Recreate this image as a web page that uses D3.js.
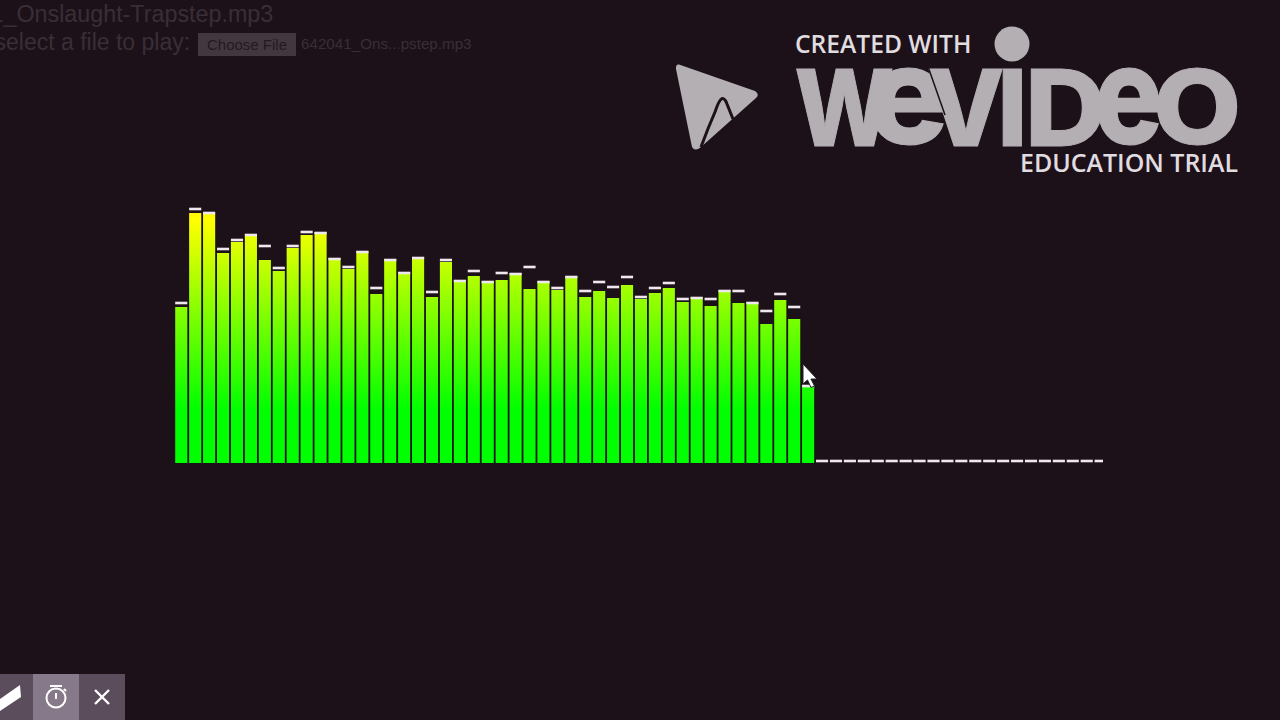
<!DOCTYPE html>
<html><head><meta charset="utf-8">
<script src="https://cdn.jsdelivr.net/npm/d3@7"></script>
<style>html,body{margin:0;padding:0;background:#1d1119;overflow:hidden}svg{display:block}</style>
</head><body><div id="c"></div>
<script>
// Bar levels (spectrum magnitude, in picture pixels above the baseline)
const barValues = [156,250,250,210,221,229,203,192,215,228,231,205,194,212,169,204,191,206,166,201,183,187,182,183,190,174,182,173,187,166,172,165,178,164,170,175,161,166,157,173,160,161,139,163,144,78,0,0,0,0,0,0,0,0,0,0,0,0,0,0,0,0,0,0,0,0,0];
// Falling peak caps
const capValues = [160,254,250,214,223,228,217,195,217,231,230,204,196,211,175,203,190,205,171,203,182,192,181,190,189,196,181,175,186,172,181,176,186,166,175,180,164,165,164,172,172,160,152,169,156,77,2,2,2,2,2,2,2,2,2,2,2,2,2,2,2,2,2,2,2,2,2];
const bins = barValues.map((_, i) => i);
const titleText = "1_Onslaught-Trapstep.mp3";
const promptText = "select a file to play:";
const buttonText = "Choose File";
const fileText = "642041_Ons...pstep.mp3";

const W = 1280, H = 720, baseY = 463;
const svg = d3.select("#c").append("svg").attr("width", W).attr("height", H).attr("viewBox", `0 0 ${W} ${H}`);
svg.append("rect").attr("width", W).attr("height", H).attr("fill", "#1d1119");

const x = d3.scaleBand().domain(bins).range([174.3, 174.3 + 67 * 13.93]).paddingInner(0.13).paddingOuter(0.065);
const y = d3.scaleLinear().domain([0, 300]).range([baseY, baseY - 300]);

const defs = svg.append("defs");
const g = defs.append("linearGradient").attr("id", "bar").attr("gradientUnits", "userSpaceOnUse")
  .attr("x1", 0).attr("x2", 0).attr("y1", 30).attr("y2", 410);
g.append("stop").attr("offset", 0).attr("stop-color", "#f00");
g.append("stop").attr("offset", 0.5).attr("stop-color", "#ff0");
g.append("stop").attr("offset", 1).attr("stop-color", "#0f0");
defs.append("clipPath").attr("id", "plot").append("rect").attr("x", 170).attr("y", 150).attr("width", 933).attr("height", 320);

const plot = svg.append("g").attr("clip-path", "url(#plot)");
plot.append("g").selectAll("rect").data(bins).join("rect")
  .attr("x", d => x(d)).attr("width", x.bandwidth())
  .attr("y", d => y(barValues[d])).attr("height", d => y(0) - y(barValues[d]))
  .attr("fill", "url(#bar)");
plot.append("g").selectAll("rect").data(bins).join("rect")
  .attr("x", d => x(d)).attr("width", x.bandwidth())
  .attr("y", d => y(capValues[d]) - 1.3).attr("height", 2.6)
  .attr("fill", "#eee8ee");

// dim page header
const sans = "'Liberation Sans',Arial,sans-serif";
svg.append("text").attr("x", -9.5).attr("y", 22).attr("font-family", sans).attr("font-size", 23.3).attr("fill", "#392e36").text(titleText);
svg.append("text").attr("x", -5.5).attr("y", 50).attr("font-family", sans).attr("font-size", 23).attr("fill", "#392e36").text(promptText);
svg.append("rect").attr("x", 198).attr("y", 33).attr("width", 98).attr("height", 23).attr("fill", "#43373f");
svg.append("text").attr("x", 207).attr("y", 50).attr("font-family", sans).attr("font-size", 15).attr("fill", "#241920").text(buttonText);
svg.append("text").attr("x", 301).attr("y", 49).attr("font-family", sans).attr("font-size", 15.2).attr("fill", "#392e36").text(fileText);

// watermark
const logoColor = "#b3afb3", bg = "#1d1119";
const logo = svg.append("g").attr("fill", logoColor);
logo.append("path").attr("d", "M679 64.5 L755 91 Q760 94.5 756 98 L701 147 Q695 152 692 147 L676 69 Q675.5 64 679 64.5 Z");
logo.append("path").attr("fill", "none").attr("stroke", bg).attr("stroke-width", 3)
  .attr("d", "M701 147 Q708 128 715 112 Q719 100 722 98.5 Q725 98 727 104 L733 119");
logo.append("circle").attr("cx", 1012).attr("cy", 44).attr("r", 17.5);

const strokeW = 1, logoTop = 68, logoBottom = 146, fontFam = "Inter", fontWeight = 800;
const ctx = document.createElement("canvas").getContext("2d");
ctx.font = `${fontWeight} 100px ${fontFam}`;
const lg = logo.append("g").attr("font-family", fontFam).attr("font-weight", fontWeight).attr("font-size", 100)
  .attr("stroke", logoColor).attr("stroke-width", strokeW);
function fit(ch, x0, x1) {
  const m = ctx.measureText(ch);
  const iw = m.actualBoundingBoxLeft + m.actualBoundingBoxRight, ih = m.actualBoundingBoxAscent + m.actualBoundingBoxDescent;
  const sx = (x1 - x0 - strokeW) / iw, sy = (logoBottom - logoTop - strokeW) / ih;
  const tx = x0 + strokeW / 2 + m.actualBoundingBoxLeft * sx, ty = logoTop + strokeW / 2 + m.actualBoundingBoxAscent * sy;
  lg.append("text").attr("transform", `translate(${tx},${ty}) scale(${sx},${sy})`)
    .style("vector-effect", "non-scaling-stroke").text(ch);
}
fit("W", 796, 893);
fit("V", 928, 1003);
logo.append("path").attr("fill", "none").attr("stroke", bg).attr("stroke-width", 1.5).attr("d", "M928.5 68 L945 115");
fit("e", 870, 945);
fit("I", 1002, 1022);
fit("D", 1030, 1103);
fit("e", 1097, 1160);
fit("O", 1157, 1238);

const oSans = "'Open Sans',sans-serif";
svg.append("text").attr("x", 795).attr("y", 53).attr("font-family", oSans).attr("font-weight", 600).attr("font-size", 24.6).attr("fill", "#e0dde0").text("CREATED WITH");
svg.append("text").attr("x", 1238).attr("y", 172).attr("text-anchor", "end").attr("font-family", oSans).attr("font-weight", 600).attr("font-size", 24.95).attr("fill", "#e0dde0").text("EDUCATION TRIAL");

// toolbar
svg.append("rect").attr("x", 0).attr("y", 674).attr("width", 125).attr("height", 46).attr("fill", "#5b4d5c");
svg.append("rect").attr("x", 33).attr("y", 674).attr("width", 46).attr("height", 46).attr("fill", "#85798a");
svg.append("path").attr("fill", "#fff").attr("d", "M0 699 L20 685 L21 697 L0 711 Z");
svg.append("circle").attr("cx", 56).attr("cy", 698).attr("r", 9.5).attr("fill", "none").attr("stroke", "#fff").attr("stroke-width", 2);
svg.append("path").attr("stroke", "#fff").attr("stroke-width", 2).attr("fill", "none").attr("d", "M50 686 H62 M56 693 V699 M64 689 L66 691");
svg.append("path").attr("stroke", "#fff").attr("stroke-width", 2.4).attr("fill", "none").attr("d", "M95 690 L109 704 M109 690 L95 704");

// mouse pointer
svg.append("path").attr("fill", "#fff").attr("stroke", "#222").attr("stroke-width", 1)
  .attr("d", "M803 364 L803 384 L807.5 380 L811 387.5 L814.5 386 L811 379 L817 379 Z");
</script></body></html>
